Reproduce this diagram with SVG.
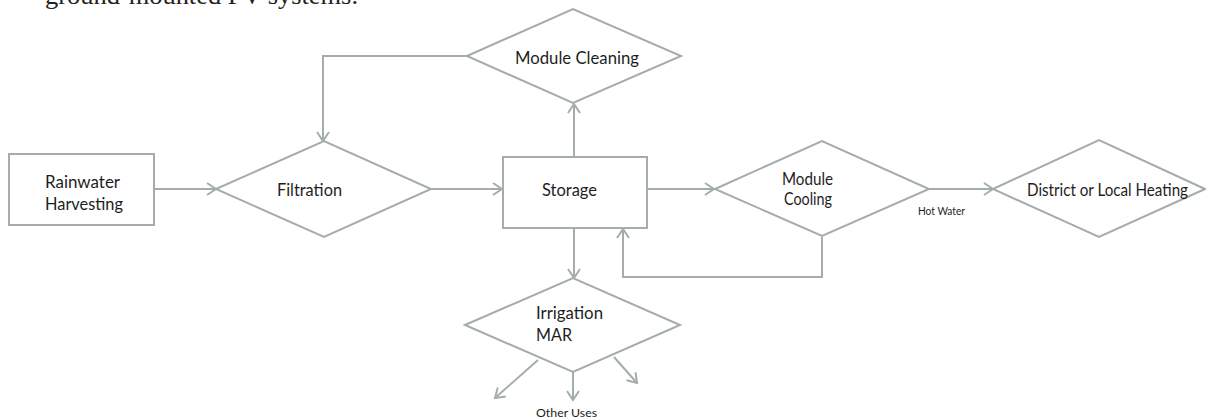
<svg xmlns="http://www.w3.org/2000/svg" width="1206" height="419" viewBox="0 0 1206 419">
<style>
.s{fill:#fff;stroke:#a4acac;stroke-width:2}
.c{fill:none;stroke:#a4acac;stroke-width:2}
.t{font-family:Lato,"Open Sans","Liberation Sans",sans-serif;font-size:17px;fill:#1e1e1e}
.m{text-anchor:middle}
.sm{font-size:12px}
</style>
<defs>
<marker id="a" markerWidth="12" markerHeight="14" refX="10" refY="7" orient="auto" markerUnits="userSpaceOnUse">
<path d="M1,1 L10,7 L1,13" fill="none" stroke="#a4acac" stroke-width="2"/>
</marker>
</defs>
<rect width="1206" height="419" fill="#fff"/>
<text x="45" y="4" font-family="Liberation Serif,serif" font-size="25" fill="#222" textLength="313" lengthAdjust="spacingAndGlyphs">ground-mounted PV systems.</text>
<g id="connectors">
<line class="c" x1="154" y1="189" x2="216" y2="189" marker-end="url(#a)"/>
<line class="c" x1="431" y1="189" x2="502" y2="189" marker-end="url(#a)"/>
<line class="c" x1="647" y1="189" x2="714" y2="189" marker-end="url(#a)"/>
<line class="c" x1="929" y1="189" x2="993" y2="189" marker-end="url(#a)"/>
<line class="c" x1="574" y1="157" x2="574" y2="104" marker-end="url(#a)"/>
<polyline class="c" points="467,56 323,56 323,141" marker-end="url(#a)"/>
<line class="c" x1="574" y1="228" x2="574" y2="278" marker-end="url(#a)"/>
<polyline class="c" points="822,237 822,277 623,277 623,229" marker-end="url(#a)"/>
<line class="c" x1="538" y1="360" x2="495" y2="398" marker-end="url(#a)"/>
<line class="c" x1="573" y1="372" x2="573" y2="400" marker-end="url(#a)"/>
<line class="c" x1="614" y1="357" x2="637" y2="383" marker-end="url(#a)"/>
</g>
<g id="rainwater">
<rect class="s" x="9" y="154" width="145" height="71"/>
<text class="t" x="45" y="188" textLength="75" lengthAdjust="spacingAndGlyphs">Rainwater</text>
<text class="t" x="45" y="210" textLength="78" lengthAdjust="spacingAndGlyphs">Harvesting</text>
</g>
<g id="filtration">
<polygon class="s" points="216,189 324,141 431,189 324,237"/>
<text class="t" x="277" y="196" textLength="65" lengthAdjust="spacingAndGlyphs">Filtration</text>
</g>
<g id="storage">
<rect class="s" x="503" y="157" width="144" height="71"/>
<text class="t" x="542" y="196" textLength="55" lengthAdjust="spacingAndGlyphs">Storage</text>
</g>
<g id="module-cleaning">
<polygon class="s" points="467,56 573,9 681,56 573,103"/>
<text class="t" x="515" y="64" textLength="124" lengthAdjust="spacingAndGlyphs">Module Cleaning</text>
</g>
<g id="module-cooling">
<polygon class="s" points="715,189 822,141 929,189 822,236"/>
<text class="t" x="782" y="185" textLength="51" lengthAdjust="spacingAndGlyphs">Module</text>
<text class="t" x="784" y="205" textLength="48" lengthAdjust="spacingAndGlyphs">Cooling</text>
</g>
<g id="hot-water">
<text class="t sm" x="918" y="215" textLength="47" lengthAdjust="spacingAndGlyphs">Hot Water</text>
</g>
<g id="heating">
<polygon class="s" points="993,189 1099,140 1205,189 1099,237"/>
<text class="t" x="1027" y="196" textLength="161" lengthAdjust="spacingAndGlyphs">District or Local Heating</text>
</g>
<g id="irrigation">
<polygon class="s" points="465,325 573,278 680,325 573,372"/>
<text class="t" x="536" y="319" textLength="67" lengthAdjust="spacingAndGlyphs">Irrigation</text>
<text class="t" x="536" y="341" textLength="36" lengthAdjust="spacingAndGlyphs">MAR</text>
</g>
<g id="other-uses">
<text class="t sm" x="536" y="417" textLength="61" lengthAdjust="spacingAndGlyphs">Other Uses</text>
</g>
</svg>
